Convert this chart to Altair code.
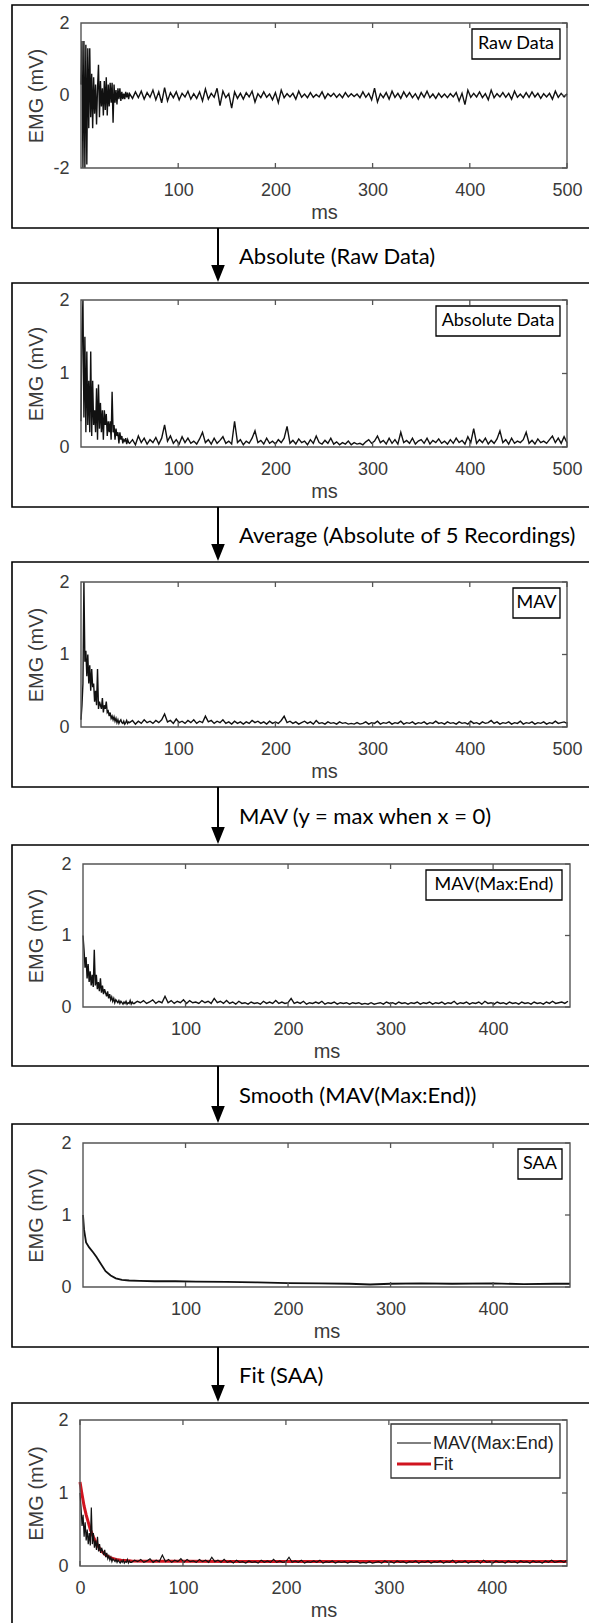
import altair as alt
import pandas as pd

# ---------------- data ----------------
t_early = list(range(0, 50))            # 1 ms steps for the first 50 ms
t_late_500 = list(range(50, 501, 3))    # 3 ms steps to 500 ms
t_late_475 = list(range(50, 474, 3))    # 3 ms steps to 473 ms

raw_early = [0.3, 1.5, -2.0, 1.5, -2.0, 1.4, -1.9, 1.3, -0.9, 1.3,
             -0.6, 0.6, -0.9, 0.5, -0.5, 0.3, -0.8, 0.2, 0.85, -0.6,
             0.4, -0.3, 0.2, -0.55, 0.4, -0.4, 0.5, -0.55, 0.3, -0.3,
             0.35, -0.2, 0.35, -0.75, 0.3, -0.2, 0.15, -0.25, 0.2, -0.1,
             0.2, -0.15, 0.1, -0.1, 0.05, -0.1, 0.1, -0.05, 0.08, -0.1]
raw_late = [0.05, -0.08, 0.10, -0.06, 0.12, -0.10, 0.08, -0.05, 0.15, -0.12,
            0.10, -0.20, 0.22, -0.15, 0.08, -0.06, 0.10, -0.12, 0.06, -0.04,
            0.12, -0.10, 0.05, -0.08, 0.10, -0.15, 0.18, -0.10, 0.06, -0.05,
            0.20, -0.28, 0.12, -0.06, 0.05, -0.35, 0.10, -0.08, 0.06, -0.10,
            0.08, -0.04, 0.12, -0.18, 0.05, -0.06, 0.10, -0.05, 0.04, -0.12,
            0.08, -0.20, 0.15, -0.06, 0.05, -0.04, 0.06, -0.10, 0.12, -0.05,
            0.04, -0.06, 0.08, -0.05, 0.03, -0.04, 0.10, -0.08, 0.05, -0.03,
            0.06, -0.05, 0.04, -0.06, 0.08, -0.04, 0.05, -0.03, 0.04, -0.06,
            0.10, -0.05, 0.06, -0.12, 0.20, -0.18, 0.05, -0.06, 0.08, -0.10,
            0.12, -0.05, 0.06, -0.08, 0.10, -0.04, 0.08, -0.06, 0.05, -0.10,
            0.08, -0.05, 0.12, -0.06, 0.04, -0.08, 0.06, -0.05, 0.04, -0.06,
            0.05, -0.04, 0.08, -0.15, 0.06, -0.25, 0.15, -0.05, 0.06, -0.04,
            0.10, -0.06, 0.05, -0.12, 0.15, -0.06, 0.05, -0.04, 0.08, -0.05,
            0.06, -0.10, 0.12, -0.05, 0.04, -0.06, 0.08, -0.05, 0.10, -0.04,
            0.06, -0.08, 0.05, -0.04, 0.06, -0.10, 0.12, -0.05, 0.06, -0.04,
            0.05]

abs_early = [0.35, 1.55, 2.0, 0.4, 1.5, 0.2, 1.3, 0.3, 0.9, 0.2,
             1.3, 0.15, 0.9, 0.3, 0.5, 0.2, 0.8, 0.1, 0.85, 0.25,
             0.6, 0.2, 0.5, 0.1, 0.5, 0.3, 0.45, 0.15, 0.35, 0.2,
             0.35, 0.1, 0.75, 0.2, 0.3, 0.1, 0.25, 0.15, 0.2, 0.05,
             0.2, 0.1, 0.15, 0.05, 0.1, 0.08, 0.12, 0.04, 0.1, 0.06]
abs_late = [0.05, 0.10, 0.03, 0.15, 0.06, 0.12, 0.04, 0.10, 0.06, 0.13,
            0.04, 0.12, 0.30, 0.08, 0.15, 0.05, 0.10, 0.04, 0.14, 0.06,
            0.12, 0.05, 0.08, 0.04, 0.11, 0.20, 0.06, 0.10, 0.04, 0.12,
            0.05, 0.09, 0.14, 0.05, 0.08, 0.04, 0.35, 0.06, 0.10, 0.03,
            0.08, 0.05, 0.12, 0.22, 0.06, 0.09, 0.04, 0.12, 0.05, 0.08,
            0.04, 0.10, 0.06, 0.12, 0.28, 0.05, 0.09, 0.04, 0.11, 0.06,
            0.08, 0.03, 0.10, 0.05, 0.15, 0.06, 0.04, 0.09, 0.05, 0.12,
            0.04, 0.07, 0.03, 0.06, 0.04, 0.08, 0.03, 0.06, 0.04, 0.05,
            0.03, 0.07, 0.10, 0.05, 0.08, 0.15, 0.06, 0.09, 0.04, 0.12,
            0.05, 0.10, 0.04, 0.20, 0.06, 0.09, 0.05, 0.12, 0.04, 0.08,
            0.10, 0.05, 0.12, 0.04, 0.09, 0.06, 0.11, 0.05, 0.08, 0.04,
            0.10, 0.05, 0.12, 0.06, 0.09, 0.04, 0.14, 0.06, 0.25, 0.05,
            0.10, 0.06, 0.12, 0.04, 0.09, 0.05, 0.11, 0.22, 0.06, 0.10,
            0.04, 0.12, 0.05, 0.08, 0.06, 0.10, 0.20, 0.05, 0.09, 0.04,
            0.11, 0.06, 0.08, 0.05, 0.10, 0.15, 0.06, 0.12, 0.05, 0.14,
            0.06]

mav_early = [0.1, 0.3, 0.6, 2.0, 0.9, 1.05, 0.7, 1.0, 0.6, 0.85,
             0.5, 0.8, 0.55, 0.6, 0.35, 0.5, 0.3, 0.8, 0.25, 0.35,
             0.3, 0.25, 0.4, 0.2, 0.3, 0.25, 0.35, 0.2, 0.22, 0.15,
             0.2, 0.12, 0.15, 0.1, 0.14, 0.08, 0.12, 0.06, 0.1, 0.05,
             0.08, 0.1, 0.06, 0.05, 0.08, 0.04, 0.06, 0.09, 0.05, 0.07]
mav_late = [0.06, 0.09, 0.04, 0.08, 0.05, 0.10, 0.06, 0.08, 0.05, 0.09,
            0.06, 0.10, 0.18, 0.07, 0.09, 0.05, 0.11, 0.06, 0.08, 0.05,
            0.09, 0.06, 0.10, 0.05, 0.08, 0.06, 0.15, 0.07, 0.09, 0.05,
            0.08, 0.06, 0.10, 0.05, 0.07, 0.04, 0.08, 0.05, 0.07, 0.04,
            0.07, 0.05, 0.09, 0.06, 0.08, 0.05, 0.07, 0.04, 0.08, 0.05,
            0.07, 0.05, 0.09, 0.15, 0.06, 0.08, 0.05, 0.07, 0.04, 0.06,
            0.08, 0.05, 0.07, 0.04, 0.09, 0.05, 0.06, 0.04, 0.07, 0.05,
            0.06, 0.04, 0.07, 0.05, 0.06, 0.04, 0.05, 0.04, 0.06, 0.04,
            0.05, 0.07, 0.04, 0.06, 0.05, 0.08, 0.04, 0.06, 0.05, 0.07,
            0.04, 0.06, 0.05, 0.08, 0.04, 0.06, 0.05, 0.07, 0.04, 0.06,
            0.05, 0.07, 0.04, 0.06, 0.05, 0.08, 0.05, 0.06, 0.04, 0.07,
            0.05, 0.06, 0.04, 0.07, 0.05, 0.06, 0.04, 0.08, 0.05, 0.06,
            0.04, 0.07, 0.05, 0.06, 0.09, 0.05, 0.07, 0.04, 0.06, 0.05,
            0.07, 0.04, 0.06, 0.05, 0.08, 0.04, 0.06, 0.05, 0.07, 0.04,
            0.06, 0.05, 0.07, 0.04, 0.06, 0.05, 0.08, 0.05, 0.06, 0.07,
            0.05]

mavme_early = [1.0, 0.8, 0.55, 0.7, 0.4, 0.6, 0.35, 0.5, 0.3, 0.45,
               0.28, 0.8, 0.3, 0.45, 0.25, 0.35, 0.22, 0.4, 0.2, 0.3,
               0.18, 0.25, 0.2, 0.15, 0.22, 0.12, 0.18, 0.1, 0.14, 0.08,
               0.12, 0.06, 0.1, 0.08, 0.06, 0.09, 0.05, 0.08, 0.06, 0.04,
               0.07, 0.05, 0.08, 0.04, 0.06, 0.05, 0.09, 0.04, 0.07, 0.05]
mavme_late = [0.05, 0.08, 0.06, 0.09, 0.05, 0.07, 0.10, 0.05, 0.08, 0.06,
              0.15, 0.06, 0.09, 0.05, 0.08, 0.06, 0.10, 0.05, 0.09, 0.06,
              0.07, 0.05, 0.09, 0.06, 0.08, 0.05, 0.12, 0.06, 0.08, 0.05,
              0.09, 0.05, 0.07, 0.04, 0.08, 0.05, 0.06, 0.04, 0.07, 0.05,
              0.06, 0.04, 0.08, 0.05, 0.07, 0.05, 0.09, 0.05, 0.07, 0.05,
              0.06, 0.12, 0.05, 0.07, 0.05, 0.08, 0.04, 0.06, 0.05, 0.07,
              0.05, 0.08, 0.04, 0.06, 0.05, 0.07, 0.04, 0.06, 0.05, 0.06,
              0.04, 0.06, 0.05, 0.06, 0.04, 0.05, 0.04, 0.06, 0.04, 0.05,
              0.06, 0.04, 0.07, 0.05, 0.06, 0.04, 0.07, 0.05, 0.06, 0.04,
              0.06, 0.05, 0.07, 0.04, 0.06, 0.05, 0.07, 0.04, 0.06, 0.05,
              0.07, 0.04, 0.06, 0.05, 0.08, 0.04, 0.06, 0.05, 0.07, 0.04,
              0.06, 0.05, 0.07, 0.04, 0.08, 0.05, 0.06, 0.04, 0.07, 0.05,
              0.06, 0.04, 0.07, 0.05, 0.06, 0.04, 0.07, 0.05, 0.06, 0.04,
              0.07, 0.05, 0.06, 0.04, 0.07, 0.05, 0.08, 0.05, 0.06, 0.07,
              0.05, 0.08]

saa_t = [0, 1, 3, 6, 10, 13, 17, 22, 27, 32, 38, 45, 55, 70, 90, 110, 140,
         170, 200, 230, 260, 280, 300, 330, 360, 400, 430, 460, 475]
saa_v = [1.0, 0.8, 0.62, 0.55, 0.48, 0.42, 0.33, 0.22, 0.16, 0.12, 0.10, 0.09,
         0.085, 0.08, 0.08, 0.075, 0.07, 0.065, 0.055, 0.05, 0.045, 0.035,
         0.045, 0.05, 0.045, 0.05, 0.04, 0.045, 0.045]

fit_t = [0, 2, 4, 6, 8, 10, 13, 16, 20, 25, 30, 35, 40, 50, 70, 100, 150,
         200, 300, 400, 473]
fit_v = [1.15, 0.98, 0.82, 0.70, 0.60, 0.50, 0.40, 0.31, 0.22, 0.15, 0.11,
         0.09, 0.08, 0.07, 0.065, 0.065, 0.06, 0.06, 0.06, 0.06, 0.06]

step_labels = ["Absolute (Raw Data)", "Average (Absolute of 5 Recordings)",
               "MAV (y = max when x = 0)", "Smooth (MAV(Max:End))", "Fit (SAA)"]
box_labels = ["Raw Data", "Absolute Data", "MAV", "MAV(Max:End)", "SAA"]
legend_labels = ["MAV(Max:End)", "Fit"]

x_ticks_500 = [100, 200, 300, 400, 500]
x_ticks_400 = [100, 200, 300, 400]
x_ticks_0 = [0, 100, 200, 300, 400]
y_ticks_raw = [-2, 0, 2]
y_ticks_pos = [0, 1, 2]

# ---------------- styling / layout ----------------
W, H = 589, 1623
AX_FONT = "Liberation Sans"
NOTE_FONT = "Lato"
AX_COL = "#3a3a3a"
BOX_COL = "#555555"
# figure frames (top, bottom) and plot areas (top, bottom) in page pixels
FRAMES = [(5, 228), (283, 507), (562, 787), (845, 1066), (1124, 1347), (1403, 1640)]
PLOTS = [(23, 168), (300, 447), (582, 727), (864, 1007), (1143, 1287), (1420, 1566)]
ONE = pd.DataFrame({"k": [0]})


def series_df(ts, vs):
    return pd.DataFrame({"t": ts, "v": vs})


def panel(i, layers_data, xdom, xrange_, ydom, xticks, yticks, label_box, legend=False):
    T, B = FRAMES[i]
    top, bot = PLOTS[i]
    left, right = xrange_
    xs = alt.Scale(domain=xdom, range=[left, right], nice=False, zero=False)
    ys = alt.Scale(domain=ydom, range=[bot, top], nice=False, zero=False)
    xax = alt.Axis(orient="bottom", offset=bot - H, values=xticks, ticks=False, tickSize=0,
                   domain=False, grid=False, labelFont=AX_FONT, labelFontSize=18,
                   labelColor=AX_COL, labelPadding=22, labelBaseline="middle",
                   labelFlush=False, labelOverlap=False, labelExpr="'' + datum.value",
                   title="ms", titleFont=AX_FONT,
                   titleFontSize=20, titleFontWeight="normal", titleColor=AX_COL,
                   titleX=(left + right) / 2, titleY=44, titleBaseline="middle",
                   titleAlign="center")
    yax = alt.Axis(orient="left", offset=-left, values=yticks, ticks=False, tickSize=0,
                   domain=False, grid=False, labelFont=AX_FONT, labelFontSize=18,
                   labelColor=AX_COL, labelPadding=12, labelAlign="right",
                   labelBaseline="middle", labelFlush=False, labelOverlap=False,
                   labelExpr="'' + datum.value",
                   title="EMG (mV)", titleFont=AX_FONT, titleFontSize=20,
                   titleFontWeight="normal", titleColor=AX_COL, titleAngle=270,
                   titleX=36 - left, titleY=(top + bot) / 2, titleAlign="center",
                   titleBaseline="middle")
    X = lambda: alt.X("t:Q", scale=xs, axis=xax)
    Y = lambda: alt.Y("v:Q", scale=ys, axis=yax)

    out = []
    # figure frame around the panel
    out.append(alt.Chart(ONE).mark_rect(fillOpacity=0, stroke="black", strokeWidth=1.6).encode(
        x=alt.value(12), x2=alt.value(620), y=alt.value(T), y2=alt.value(B)))
    # data lines
    for df, color, sw in layers_data:
        out.append(alt.Chart(df).mark_line(color=color, strokeWidth=sw).encode(x=X(), y=Y()))
    # axes box
    out.append(alt.Chart(ONE).mark_rect(fillOpacity=0, stroke=BOX_COL, strokeWidth=1.4).encode(
        x=alt.XDatum(xdom[0], type="quantitative", scale=xs, axis=xax),
        x2=alt.X2Datum(xdom[1]),
        y=alt.YDatum(ydom[0], type="quantitative", scale=ys, axis=yax),
        y2=alt.Y2Datum(ydom[1])))
    # inward ticks
    xt = pd.DataFrame({"t": xticks})
    yt = pd.DataFrame({"v": yticks})
    out.append(alt.Chart(xt).mark_rule(color=BOX_COL, strokeWidth=1.3).encode(
        x=X(), y=alt.value(bot), y2=alt.value(bot - 5)))
    out.append(alt.Chart(xt).mark_rule(color=BOX_COL, strokeWidth=1.3).encode(
        x=X(), y=alt.value(top), y2=alt.value(top + 5)))
    out.append(alt.Chart(yt).mark_rule(color=BOX_COL, strokeWidth=1.3).encode(
        y=Y(), x=alt.value(right), x2=alt.value(right - 5)))
    # label box in the upper right
    if label_box is not None:
        text, x0, x1 = label_box
        out.append(alt.Chart(ONE).mark_rect(fill="white", stroke="black", strokeWidth=1.3).encode(
            x=alt.value(x0), x2=alt.value(x1), y=alt.value(top + 6), y2=alt.value(top + 36)))
        out.append(alt.Chart(pd.DataFrame({"s": [text]})).mark_text(
            font=NOTE_FONT, fontSize=18, color="black", align="center", baseline="middle").encode(
            x=alt.value((x0 + x1) / 2), y=alt.value(top + 21), text="s:N"))
    if legend:
        out.append(alt.Chart(ONE).mark_rect(fill="white", stroke="#333333", strokeWidth=1.3).encode(
            x=alt.value(391), x2=alt.value(560), y=alt.value(T + 21), y2=alt.value(T + 75)))
        out.append(alt.Chart(ONE).mark_rule(color="black", strokeWidth=1).encode(
            x=alt.value(397), x2=alt.value(431), y=alt.value(T + 40)))
        out.append(alt.Chart(ONE).mark_rule(color="#d0141f", strokeWidth=3).encode(
            x=alt.value(397), x2=alt.value(431), y=alt.value(T + 61)))
        for j, lab in enumerate(legend_labels):
            out.append(alt.Chart(pd.DataFrame({"s": [lab]})).mark_text(
                font=AX_FONT, fontSize=18, color="#222222", align="left", baseline="middle").encode(
                x=alt.value(433), y=alt.value(T + 41 + 21 * j), text="s:N"))
    # arrow + step annotation from the previous panel
    if i > 0:
        prev_bot = FRAMES[i - 1][1]
        out.append(alt.Chart(ONE).mark_rule(color="black", strokeWidth=2).encode(
            x=alt.value(218), y=alt.value(prev_bot), y2=alt.value(T - 12)))
        out.append(alt.Chart(ONE).mark_point(shape="M-0.8,-1L0.8,-1L0,1Z", filled=True,
                                             color="black", opacity=1, size=289).encode(
            x=alt.value(218), y=alt.value(T - 1 - 8.5)))
        out.append(alt.Chart(pd.DataFrame({"s": [step_labels[i - 1]]})).mark_text(
            font=NOTE_FONT, fontSize=22, color="black", align="left", baseline="middle").encode(
            x=alt.value(239), y=alt.value((prev_bot + T) / 2 + 1), text="s:N"))
    return alt.layer(*out)


raw_df = series_df(t_early + t_late_500, raw_early + raw_late)
abs_df = series_df(t_early + t_late_500, abs_early + abs_late)
mav_df = series_df(t_early + t_late_500, mav_early + mav_late)
mavme_df = series_df(t_early + t_late_475, mavme_early + mavme_late)
saa_df = series_df(saa_t, saa_v)
fit_df = series_df(fit_t, fit_v)

LW = 1.4
panels = [
    panel(0, [(raw_df, "#111111", LW)], [0, 500], [81, 567], [-2, 2], x_ticks_500, y_ticks_raw,
          (box_labels[0], 472, 560)),
    panel(1, [(abs_df, "#111111", LW)], [0, 500], [81, 567], [0, 2], x_ticks_500, y_ticks_pos,
          (box_labels[1], 436, 560)),
    panel(2, [(mav_df, "#111111", LW)], [0, 500], [81, 567], [0, 2], x_ticks_500, y_ticks_pos,
          (box_labels[2], 513, 560)),
    panel(3, [(mavme_df, "#111111", LW)], [0, 475], [83, 570], [0, 2], x_ticks_400, y_ticks_pos,
          (box_labels[3], 426, 562)),
    panel(4, [(saa_df, "#111111", 1.8)], [0, 475], [83, 570], [0, 2], x_ticks_400, y_ticks_pos,
          (box_labels[4], 518, 562)),
    panel(5, [(fit_df, "#d0141f", 3.0), (mavme_df, "#111111", 1.2)], [0, 473], [80, 567], [0, 2],
          x_ticks_0, y_ticks_pos, None, legend=True),
]

chart = alt.layer(*panels).resolve_scale(x="independent", y="independent").properties(
    width=W, height=H, autosize=alt.AutoSizeParams(type="none"), padding=0,
    background="white",
).configure_view(stroke="transparent")

chart.save("out.html", embed_options={"renderer": "svg", "actions": False})
